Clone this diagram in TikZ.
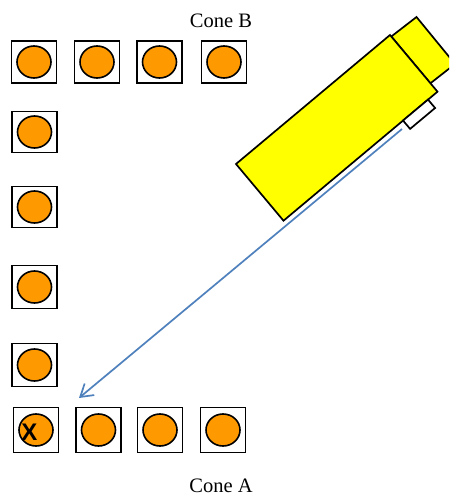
\documentclass[tikz,border=0pt]{standalone}
\usepackage{fontspec}
\setmainfont{Liberation Serif}
\newfontfamily\xfont{Liberation Sans}
\usetikzlibrary{arrows.meta}
\definecolor{coneorange}{HTML}{FF9900}
\definecolor{camyellow}{HTML}{FFFF00}
\definecolor{arrowblue}{HTML}{4F81BD}
\tikzset{
  conebox/.style={draw=black, line width=1.7pt, minimum width=45pt, minimum height=43pt, inner sep=0pt},
  conedot/.style={draw=black, fill=coneorange, line width=1.6pt},
  camshape/.style={draw=black, line width=1.7pt, line join=miter},
  lbl/.style={font=\fontsize{20.5}{24}\selectfont, inner sep=0pt, anchor=base},
}
\begin{document}
\begin{tikzpicture}[x=1pt,y=-1pt]
\useasboundingbox (0,0) rectangle (449,497);
\clip (0,0) rectangle (449,497);
\fill[white] (0,0) rectangle (449,497);

% boxes
\foreach \n/\x/\y/\h in {b1/34/62/42, b2/97/62/42, b3/159.5/62/42, b4/224/62/42,
                      l1/34.5/132/41, l2/34.5/207/41, l3/34.5/287/43, l4/34.5/365/43,
                      a1/36/430/45, a2/98.5/430/45, a3/160/430/45, a4/223/430/45}{
  \node[conebox, minimum height=\h pt] (box\n) at (\x,\y) {};
  \draw[conedot] (box\n.center) ellipse [x radius=17pt, y radius=16pt];
}

% X mark
\node[font=\xfont\bfseries\fontsize{24}{27}\selectfont, inner sep=0pt] (xmark) at (29.5,432.5) {X};

% labels
\node[lbl] (coneB) at (221,28) {Cone B};
\node[lbl] (coneA) at (221,492) {Cone A};

% camera back piece
\filldraw[camshape, fill=camyellow] (391.3,36.5) -- (416.5,17) -- (455,64) -- (430.4,83.3) -- cycle;
% camera body
\filldraw[camshape, fill=camyellow] (236,164) coordinate (c1) -- (390,35) coordinate (c2) -- (437.5,91.7) coordinate (c3) -- (283.5,220.7) coordinate (c4) -- cycle;
% small white box
\filldraw[camshape, fill=white] (403,120.5) -- (428,99.6) -- (435.1,108) -- (410.1,128.9) -- cycle;

% arrow
\coordinate (astart) at (402,129);
\coordinate (aend) at (79,398);
\draw[arrowblue, line width=1.7pt, -{Straight Barb[length=12pt,width=15pt]}] (astart) -- (aend);
\end{tikzpicture}
\end{document}
